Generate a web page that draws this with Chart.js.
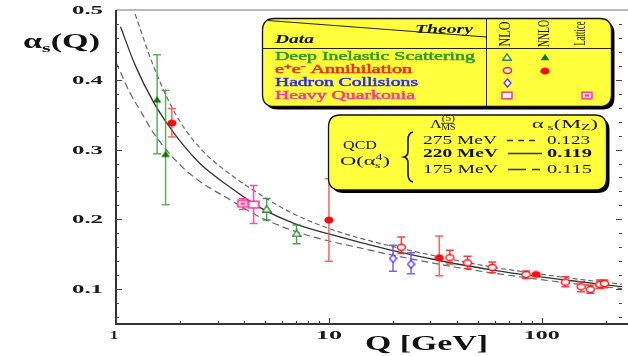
<!DOCTYPE html>
<html><head><meta charset="utf-8">
<script src="https://cdn.jsdelivr.net/npm/chart.js@4.4.1/dist/chart.umd.min.js"></script>
<style>html,body{margin:0;padding:0;background:#fff;}#wrap{width:628px;height:356px;}</style>
</head><body><div id="wrap"><canvas id="c" width="628" height="356"></canvas></div>
<script>
// QCD running coupling, alpha_s(Q), for three values of Lambda(5)
const curveQ_275 = [1.23, 1.52, 1.92, 2.5, 3.39, 4.84, 6.91, 10, 13.6, 20, 30, 40, 60, 91.2, 130, 200, 238];
const curveA_275 = [0.494, 0.415, 0.349, 0.301, 0.266, 0.234, 0.207, 0.187, 0.174, 0.161, 0.149, 0.141, 0.131, 0.123, 0.1165, 0.1095, 0.107];
const curveQ_220 = [1.05, 1.23, 1.5, 1.75, 2.0, 2.5, 3.4, 4.8, 6.9, 10, 14, 20, 30, 40, 60, 91.2, 130, 200, 238];
const curveA_220 = [0.476, 0.421, 0.368, 0.336, 0.312, 0.279, 0.247, 0.216, 0.194, 0.179, 0.167, 0.155, 0.1435, 0.136, 0.127, 0.119, 0.113, 0.106, 0.1035];
const curveQ_175 = [1.0, 1.16, 1.34, 1.49, 2.0, 2.46, 3.39, 4.84, 6.91, 10, 14, 20, 30, 40, 60, 91.2, 130, 200, 238];
const curveA_175 = [0.425, 0.382, 0.349, 0.325, 0.278, 0.255, 0.229, 0.202, 0.183, 0.169, 0.159, 0.1485, 0.138, 0.131, 0.1227, 0.115, 0.1092, 0.103, 0.1007];

// measurements: Q [GeV], alpha_s, lower and upper error limits
const disNnloQ = [1.56, 1.71];
const disNnloA = [0.372, 0.294];
const disNnloLo = [0.294, 0.221];
const disNnloHi = [0.436, 0.385];

const disNloQ = [5.1, 7.05];
const disNloA = [0.215, 0.180];
const disNloLo = [0.199, 0.165];
const disNloHi = [0.230, 0.192];

const eeNnloQ = [1.83, 10.0, 33, 94];
const eeNnloA = [0.338, 0.199, 0.145, 0.121];
const eeNnloLo = [0.318, 0.140, 0.119, 0.1195];
const eeNnloHi = [0.359, 0.258, 0.176, 0.1225];

const eeNloQ = [21.9, 37, 44.8, 58.5, 84.3, 129, 153, 169, 187, 197];
const eeNloA = [0.160, 0.145, 0.1376, 0.131, 0.121, 0.110, 0.1033, 0.0996, 0.1067, 0.108];
const eeNloLo = [0.151, 0.136, 0.1296, 0.1233, 0.1153, 0.1033, 0.0961, 0.0939, 0.101, 0.102];
const eeNloHi = [0.1747, 0.1557, 0.147, 0.139, 0.126, 0.1176, 0.1104, 0.1057, 0.1129, 0.113];

const hadronQ = [20, 24.3];
const hadronA = [0.1439, 0.1357];
const hadronLo = [0.1257, 0.122];
const hadronHi = [0.163, 0.152];

const quarkoniaQ = [4.43];
const quarkoniaA = [0.221];
const quarkoniaLo = [0.194];
const quarkoniaHi = [0.2486];

const latticeQ = [3.94];
const latticeA = [0.2224];
const latticeLo = [0.214];
const latticeHi = [0.2296];

// axis ticks
const yTicks = [0.1, 0.2, 0.3, 0.4, 0.5];
const yTickLabels = ['0.1', '0.2', '0.3', '0.4', '0.5'];
const xTicks = [1, 10, 100];
const xTickLabels = ['1', '10', '100'];

const SERIF = '"Liberation Serif","Times New Roman",serif';
const pts = (q, a) => q.map((v, i) => ({ x: v, y: a[i] }));

// small marker bitmaps used as point styles
function marker(w, h, draw) {
  const c = document.createElement('canvas');
  c.width = w; c.height = h;
  draw(c.getContext('2d'));
  return c;
}
const triPath = (g) => { g.beginPath(); g.moveTo(5, 0.8); g.lineTo(9.3, 7.2); g.lineTo(0.7, 7.2); g.closePath(); };
const mTriFilled = marker(10, 8, g => { triPath(g); g.fillStyle = '#0a780a'; g.fill(); });
const mTriOpen = marker(10, 8, g => { triPath(g); g.fillStyle = '#fff'; g.fill(); g.strokeStyle = '#2d8f2d'; g.lineWidth = 1.4; g.stroke(); });
const mCircFilled = marker(10, 8, g => { g.beginPath(); g.ellipse(5, 4, 4.6, 3.6, 0, 0, Math.PI * 2); g.fillStyle = '#ff0a0a'; g.fill(); });
const mCircOpen = marker(11, 9, g => { g.beginPath(); g.ellipse(5.5, 4.5, 4, 3, 0, 0, Math.PI * 2); g.fillStyle = '#fff'; g.fill(); g.strokeStyle = '#ff1a1a'; g.lineWidth = 1.5; g.stroke(); });
const mDiamond = marker(9, 10, g => { g.beginPath(); g.moveTo(4.5, 1); g.lineTo(8, 5); g.lineTo(4.5, 9); g.lineTo(1, 5); g.closePath(); g.fillStyle = '#fff'; g.fill(); g.strokeStyle = '#5a3cff'; g.lineWidth = 1.4; g.stroke(); });
const mSquare = marker(12, 9, g => { g.fillStyle = '#fff'; g.fillRect(1, 1.2, 10, 6.6); g.strokeStyle = '#ff3399'; g.lineWidth = 1.5; g.strokeRect(1, 1.2, 10, 6.6); });
const mLattice = marker(12, 9, g => { g.fillStyle = '#ffd6ea'; g.fillRect(1, 1.2, 10, 6.6); g.strokeStyle = '#ff3399'; g.lineWidth = 1.4; g.strokeRect(1, 1.2, 10, 6.6); g.fillStyle = '#ff3399'; g.fillRect(4, 3.4, 4, 2.2); });

// text helper: a run of pieces, stretched horizontally to a given width
function drawRuns(ctx, parts, x, y, targetW, align, weight) {
  let total = 0;
  parts.forEach(p => { ctx.font = p.f; p.w = ctx.measureText(p.t).width; if (!p.stack) total += p.w; });
  const sx = targetW ? targetW / total : 1;
  const W = total * sx;
  const x0 = align === 'center' ? x - W / 2 : align === 'right' ? x - W : x;
  ctx.save();
  ctx.translate(x0, y); ctx.scale(sx, 1);
  ctx.textBaseline = 'middle'; ctx.textAlign = 'left';
  let cx = 0;
  parts.forEach(p => {
    ctx.font = p.f; ctx.fillStyle = p.c || '#111';
    const px = p.stack ? cx - p.back : cx;
    ctx.fillText(p.t, px, p.dy || 0);
    if (weight) { ctx.strokeStyle = p.c || '#111'; ctx.lineWidth = weight; ctx.strokeText(p.t, px, p.dy || 0); }
    if (!p.stack) cx += p.w;
  });
  ctx.restore();
}
const txt = (ctx, t, f, c, x, y, w, align, weight) => drawRuns(ctx, [{ t, f, c }], x, y, w, align, weight);

function roundRect(ctx, x, y, w, h, r) {
  ctx.beginPath();
  ctx.moveTo(x + r, y); ctx.lineTo(x + w - r, y); ctx.quadraticCurveTo(x + w, y, x + w, y + r);
  ctx.lineTo(x + w, y + h - r); ctx.quadraticCurveTo(x + w, y + h, x + w - r, y + h);
  ctx.lineTo(x + r, y + h); ctx.quadraticCurveTo(x, y + h, x, y + h - r);
  ctx.lineTo(x, y + r); ctx.quadraticCurveTo(x, y, x + r, y); ctx.closePath();
}
function yellowBox(ctx, x, y, w, h) {
  roundRect(ctx, x + 3, y + 3, w, h, 12); ctx.fillStyle = '#000'; ctx.fill();
  roundRect(ctx, x, y, w, h, 12); ctx.fillStyle = '#ffff3c'; ctx.fill();
  ctx.strokeStyle = '#111'; ctx.lineWidth = 1.3; ctx.stroke();
}
function stamp(ctx, img, x, y) { ctx.drawImage(img, Math.round(x - img.width / 2), Math.round(y - img.height / 2)); }

const errorBars = {
  id: 'errorBars',
  beforeDatasetDraw(chart, args) {
    const ds = chart.data.datasets[args.index];
    if (!ds.lo) return;
    const { ctx, chartArea: a, scales: { x, y } } = chart;
    ctx.save();
    ctx.beginPath(); ctx.rect(a.left, a.top, a.right - a.left, a.bottom - a.top); ctx.clip();
    ctx.strokeStyle = ds.errColor; ctx.lineWidth = 1.5;
    ds.data.forEach((p, i) => {
      const px = x.getPixelForValue(p.x);
      const y1 = y.getPixelForValue(ds.lo[i]), y2 = y.getPixelForValue(ds.hi[i]);
      ctx.beginPath();
      ctx.moveTo(px, y1); ctx.lineTo(px, y2);
      ctx.moveTo(px - 4, y1); ctx.lineTo(px + 4, y1);
      ctx.moveTo(px - 4, y2); ctx.lineTo(px + 4, y2);
      ctx.stroke();
    });
    ctx.restore();
  }
};

const frame = {
  id: 'frame',
  beforeDraw(chart) {
    const ctx = chart.ctx;
    ctx.save(); ctx.fillStyle = '#fff'; ctx.fillRect(0, 0, chart.width, chart.height); ctx.restore();
  },
  afterDatasetsDraw(chart) {
    const { ctx, chartArea: a, scales: { x, y } } = chart;
    ctx.save();
    // frame
    ctx.strokeStyle = '#a0a0a0'; ctx.lineWidth = 1.5;
    ctx.beginPath(); ctx.moveTo(a.left, a.top); ctx.lineTo(chart.width, a.top); ctx.stroke();
    ctx.strokeStyle = '#333'; ctx.lineWidth = 2;
    ctx.beginPath(); ctx.moveTo(a.left, a.top); ctx.lineTo(a.left, a.bottom); ctx.lineTo(chart.width, a.bottom); ctx.stroke();
    // inward ticks
    ctx.lineWidth = 1.2; ctx.strokeStyle = '#444';
    ctx.beginPath();
    for (let v = 0.06; v < 0.5; v += 0.02) {
      const py = Math.round(y.getPixelForValue(v)) + 0.5;
      const major = Math.abs(v * 10 - Math.round(v * 10)) < 1e-6;
      const len = major ? 6 : 3;
      ctx.moveTo(a.left, py); ctx.lineTo(a.left + len, py);
      ctx.moveTo(a.right, py); ctx.lineTo(a.right - len, py);
    }
    for (let d = 1; d <= 100; d *= 10) {
      for (let m = 1; m <= 9; m++) {
        const v = d * m;
        if (v > x.max) break;
        const px = Math.round(x.getPixelForValue(v)) + 0.5;
        const len = m === 1 ? 6 : 3;
        ctx.moveTo(px, a.bottom); ctx.lineTo(px, a.bottom - len);
      }
    }
    ctx.stroke();

    // tick labels
    const bold13 = 'bold 13px ' + SERIF;
    yTicks.forEach((v, i) => txt(ctx, yTickLabels[i], bold13, '#1a1a1a', 103, y.getPixelForValue(v) + 0.8, 31, 'right'));
    const xw = [8, 26, 36];
    xTicks.forEach((v, i) => txt(ctx, xTickLabels[i], 'bold 12.5px ' + SERIF, '#1a1a1a', x.getPixelForValue(v) - (i === 0 ? 2 : 0), 336, xw[i], 'center'));

    // axis titles
    const b20 = 'bold 20px ' + SERIF;
    drawRuns(ctx, [{ t: 'Q [GeV]', f: b20 }], 365, 345, 123, 'left');
    drawRuns(ctx, [
      { t: 'α', f: b20 },
      { t: 's', f: 'bold 13px ' + SERIF, dy: 6 },
      { t: '(Q)', f: b20 }
    ], 23, 43, 77, 'left');

    // data / theory table
    yellowBox(ctx, 262.5, 18.5, 349, 88);
    ctx.strokeStyle = '#222'; ctx.lineWidth = 1;
    ctx.beginPath();
    ctx.moveTo(486.5, 18.5); ctx.lineTo(486.5, 106.5);
    ctx.moveTo(262.5, 48.5); ctx.lineTo(611.5, 48.5);
    ctx.moveTo(268, 20.5); ctx.lineTo(486.5, 37);
    ctx.stroke();
    const bi = 'italic bold 12.5px ' + SERIF;
    txt(ctx, 'Theory', bi, '#111', 415, 29.5, 58, 'left');
    txt(ctx, 'Data', bi, '#111', 275, 39.5, 39, 'left');
    const rf = '11.5px ' + SERIF;
    txt(ctx, 'Deep Inelastic Scattering', rf, '#2f9a2f', 275, 57, 200, 'left', 0.45);
    drawRuns(ctx, [
      { t: 'e', f: rf, c: '#ff2000' },
      { t: '+', f: '8px ' + SERIF, c: '#ff2000', dy: -3 },
      { t: 'e', f: rf, c: '#ff2000' },
      { t: '-', f: '8px ' + SERIF, c: '#ff2000', dy: -3 },
      { t: ' Annihilation', f: rf, c: '#ff2000' }
    ], 275, 70, 137, 'left', 0.45);
    txt(ctx, 'Hadron Collisions', rf, '#3028ff', 275, 83, 143, 'left', 0.45);
    txt(ctx, 'Heavy Quarkonia', rf, '#ff3399', 275, 95.5, 140, 'left', 0.45);
    // rotated column heads
    [['NLO', 505, 34, 25], ['NNLO', 544, 33.5, 27], ['Lattice', 580, 33.5, 24]].forEach(([t, cx, cy, len]) => {
      ctx.save();
      ctx.translate(cx, cy); ctx.scale(1.5, 1); ctx.rotate(-Math.PI / 2);
      ctx.font = '11px ' + SERIF;
      const w = ctx.measureText(t).width;
      ctx.scale(len / w, 1);
      ctx.fillStyle = '#111'; ctx.textAlign = 'center'; ctx.textBaseline = 'middle';
      ctx.fillText(t, 0, 0.5);
      ctx.restore();
    });
    stamp(ctx, mTriOpen, 507, 57);
    stamp(ctx, mCircOpen, 507, 70.5);
    stamp(ctx, mDiamond, 507, 83);
    stamp(ctx, mSquare, 507, 95.5);
    stamp(ctx, mTriFilled, 545, 57);
    stamp(ctx, mCircFilled, 545, 70.5);
    stamp(ctx, mLattice, 587, 95.5);

    // QCD curves key
    yellowBox(ctx, 328.5, 115, 278, 75);
    const r13 = '13px ' + SERIF, s9 = '9px ' + SERIF;
    drawRuns(ctx, [
      { t: 'Λ', f: r13 },
      { t: '(5)', f: s9, dy: -6 },
      { t: 'MS', f: '8px ' + SERIF, dy: 2.5, stack: true, back: 11 }
    ], 430, 125, 25, 'left');
    ctx.strokeStyle = '#111'; ctx.lineWidth = 0.8;
    ctx.beginPath(); ctx.moveTo(441, 123.3); ctx.lineTo(454, 123.3); ctx.stroke();
    drawRuns(ctx, [
      { t: 'α', f: r13 },
      { t: ' s', f: s9, dy: 3 },
      { t: '(M', f: r13 },
      { t: 'Z', f: s9, dy: 3 },
      { t: ')', f: r13 }
    ], 532, 125, 66, 'left');
    txt(ctx, 'QCD', r13, '#111', 360, 146, 34, 'center');
    drawRuns(ctx, [
      { t: 'O(α', f: r13 },
      { t: '4', f: '8px ' + SERIF, dy: -4 },
      { t: 's', f: '8px ' + SERIF, dy: 4, stack: true, back: 4.4 },
      { t: ')', f: r13 }
    ], 365, 162, 50, 'center');
    // brace
    ctx.strokeStyle = '#111'; ctx.lineWidth = 1.6;
    ctx.beginPath();
    ctx.moveTo(413, 132); ctx.quadraticCurveTo(408, 133, 408, 140); ctx.lineTo(408, 151);
    ctx.quadraticCurveTo(408, 156, 404, 157); ctx.quadraticCurveTo(408, 158, 408, 163);
    ctx.lineTo(408, 174); ctx.quadraticCurveTo(408, 181, 413, 182);
    ctx.stroke();
    const b13 = 'bold 13px ' + SERIF;
    txt(ctx, '275 MeV', r13, '#111', 423, 140.5, 74, 'left');
    txt(ctx, '220 MeV', b13, '#111', 423, 153.5, 75, 'left');
    txt(ctx, '175 MeV', r13, '#111', 423, 169.5, 75, 'left');
    txt(ctx, '0.123', r13, '#111', 547, 140.5, 43, 'left');
    txt(ctx, '0.119', b13, '#111', 547, 153.5, 45, 'left');
    txt(ctx, '0.115', r13, '#111', 547, 169.5, 45, 'left');
    ctx.strokeStyle = '#333'; ctx.lineWidth = 1.3;
    ctx.setLineDash([6, 5]);
    ctx.beginPath(); ctx.moveTo(507, 140.5); ctx.lineTo(540, 140.5); ctx.stroke();
    ctx.setLineDash([]);
    ctx.lineWidth = 1.5;
    ctx.beginPath(); ctx.moveTo(508, 153.5); ctx.lineTo(542, 153.5); ctx.stroke();
    ctx.lineWidth = 1.3;
    ctx.beginPath(); ctx.moveTo(508, 169.5); ctx.lineTo(526, 169.5); ctx.moveTo(532, 169.5); ctx.lineTo(540, 169.5); ctx.stroke();
    ctx.restore();
  }
};

const scatterSet = (q, a, lo, hi, style, errColor) => ({
  data: pts(q, a), lo, hi, errColor, pointStyle: style, pointRadius: 5, showLine: false
});
const curveSet = (q, a, color, width, dash) => ({
  type: 'line', data: pts(q, a), borderColor: color, borderWidth: width, borderDash: dash,
  pointRadius: 0, fill: false, cubicInterpolationMode: 'monotone', showLine: true
});

new Chart(document.getElementById('c'), {
  type: 'scatter',
  data: {
    datasets: [
      scatterSet(disNnloQ, disNnloA, disNnloLo, disNnloHi, mTriFilled, 'rgba(70,160,70,0.85)'),
      scatterSet(disNloQ, disNloA, disNloLo, disNloHi, mTriOpen, 'rgba(50,145,50,0.85)'),
      scatterSet(eeNnloQ, eeNnloA, eeNnloLo, eeNnloHi, mCircFilled, 'rgba(255,70,70,0.85)'),
      scatterSet(eeNloQ, eeNloA, eeNloLo, eeNloHi, mCircOpen, 'rgba(255,40,40,0.9)'),
      scatterSet(hadronQ, hadronA, hadronLo, hadronHi, mDiamond, 'rgba(100,80,255,0.9)'),
      scatterSet(quarkoniaQ, quarkoniaA, quarkoniaLo, quarkoniaHi, mSquare, 'rgba(255,60,160,0.9)'),
      scatterSet(latticeQ, latticeA, latticeLo, latticeHi, mLattice, 'rgba(255,60,160,0.9)'),
      curveSet(curveQ_220, curveA_220, '#333', 1.3, []),
      curveSet(curveQ_275, curveA_275, '#666', 1.2, [5, 3]),
      curveSet(curveQ_175, curveA_175, '#666', 1.2, [7, 4])
    ]
  },
  options: {
    responsive: false, animation: false, devicePixelRatio: 1,
    layout: { padding: { left: 116, top: 10, right: 1, bottom: 32 } },
    plugins: { legend: { display: false }, tooltip: { enabled: false } },
    scales: {
      x: { type: 'logarithmic', min: 1, max: 238, display: false },
      y: { type: 'linear', min: 0.05, max: 0.5, display: false }
    }
  },
  plugins: [errorBars, frame]
});
</script>
</body></html>
